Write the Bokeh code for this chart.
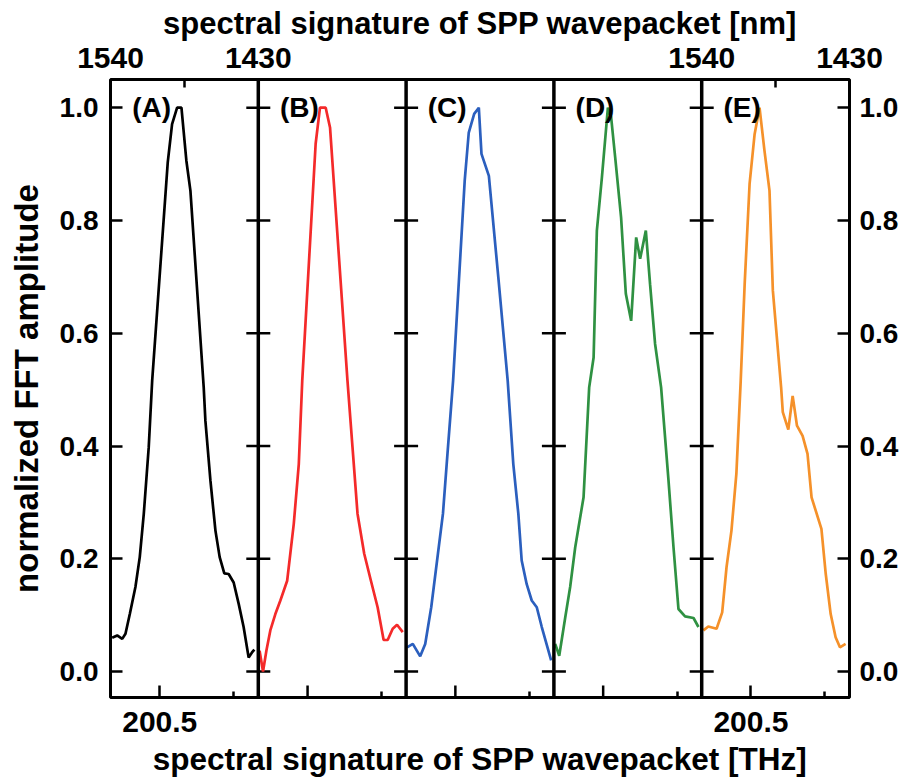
import math
from bokeh.plotting import figure
from bokeh.models import LinearAxis, FixedTicker, Range1d, Label, Span, PrintfTickFormatter
from bokeh.embed import file_html
from bokeh.resources import INLINE

# ---------------- data ----------------
panel_names = ["(A)", "(B)", "(C)", "(D)", "(E)"]
colors = ["#000000", "#f42a2a", "#2b5fbe", "#2f9142", "#f5912a"]

freq_a = [195.67, 196.18, 196.69, 197.02, 197.46, 198.03, 198.47, 198.88, 199.38, 199.73,
          201.31, 201.75, 202.26, 202.70, 203.20, 203.61, 204.96, 205.13, 205.64, 206.15,
          206.58, 207.05, 207.49, 208.00, 208.51, 209.01, 209.52, 209.86, 210.10]
amp_a = [0.060, 0.064, 0.058, 0.067, 0.102, 0.150, 0.203, 0.280, 0.398, 0.516,
         0.903, 0.971, 1.000, 1.000, 0.906, 0.853, 0.504, 0.445, 0.339, 0.250,
         0.203, 0.174, 0.173, 0.158, 0.120, 0.079, 0.025, 0.034, 0.039]

freq_b = [195.63, 195.98, 196.32, 196.72, 197.23, 197.74, 198.43, 199.10, 199.61, 199.96,
          201.32, 201.76, 202.34, 202.78, 204.55, 205.06, 205.57, 206.25, 206.93, 207.61,
          208.22, 208.63, 209.14, 209.58, 210.16]
amp_b = [0.037, 0.000, 0.037, 0.073, 0.102, 0.126, 0.161, 0.262, 0.368, 0.516,
         0.936, 1.000, 1.000, 0.965, 0.516, 0.398, 0.280, 0.209, 0.161, 0.114,
         0.056, 0.056, 0.076, 0.083, 0.070]

freq_c = [195.60, 196.18, 196.93, 197.44, 198.05, 198.73, 199.24, 199.75, 200.27, 201.45,
          201.86, 202.41, 202.88, 203.15, 203.90, 204.86, 205.81, 206.38, 206.89, 207.23,
          207.74, 208.25, 208.76, 209.27, 210.22]
amp_c = [0.043, 0.049, 0.027, 0.049, 0.114, 0.209, 0.280, 0.398, 0.516, 0.871,
         0.956, 0.989, 1.000, 0.918, 0.879, 0.699, 0.516, 0.368, 0.280, 0.197,
         0.155, 0.126, 0.114, 0.079, 0.020]

freq_d = [195.63, 196.04, 196.65, 197.15, 197.66, 198.00, 198.51, 199.08, 199.53, 199.86,
          200.37, 200.98, 201.31, 201.72, 202.32, 202.80, 203.34, 203.85, 204.25, 204.83,
          205.26, 205.77, 206.38, 207.13, 207.64, 208.14, 208.81, 209.67, 210.17]
amp_d = [0.049, 0.028, 0.096, 0.150, 0.220, 0.256, 0.309, 0.504, 0.557, 0.782,
         0.876, 1.000, 0.983, 0.912, 0.805, 0.670, 0.622, 0.770, 0.732, 0.782,
         0.687, 0.581, 0.504, 0.339, 0.220, 0.111, 0.098, 0.095, 0.079]

freq_e = [195.67, 196.17, 197.01, 197.58, 198.02, 198.52, 199.02, 199.46, 199.86, 200.36,
          200.87, 201.37, 201.87, 202.38, 202.72, 203.56, 203.73, 204.29, 204.73, 205.17,
          205.74, 206.24, 206.65, 207.65, 208.09, 208.59, 209.09, 209.53, 210.10]
amp_e = [0.073, 0.080, 0.076, 0.105, 0.185, 0.250, 0.351, 0.516, 0.687, 0.865,
         0.953, 1.000, 0.924, 0.853, 0.676, 0.504, 0.460, 0.429, 0.489, 0.436,
         0.418, 0.386, 0.309, 0.253, 0.173, 0.102, 0.061, 0.043, 0.049]

freqs = [freq_a, freq_b, freq_c, freq_d, freq_e]
amps = [amp_a, amp_b, amp_c, amp_d, amp_e]

freq_range = (195.5, 210.5)          # THz span of one panel
wl_edge_labels = ["1540", "1430"]    # nm at the panel edges (top axis)
freq_major = 200.5                   # labelled THz tick
freq_minor = 208.0
wl_mid = 203.0                       # middle (minor) tick of the nm axis
labelled_panels = [0, 4]
y_ticks = [0.0, 0.2, 0.4, 0.6, 0.8, 1.0]
y_range = (-0.046, 1.05)

# ---------------- figure ----------------
FONT = "Liberation Sans"
n = len(freqs)
span = freq_range[1] - freq_range[0]
x_start, x_end = freq_range[0], freq_range[0] + n * span

p = figure(width=904, height=779, frame_width=739, frame_height=618,
           min_border_left=110, min_border_right=55,
           min_border_top=79, min_border_bottom=82,
           x_range=Range1d(x_start, x_end), y_range=Range1d(*y_range),
           x_axis_location=None, y_axis_location=None,
           output_backend="svg", toolbar_location=None, tools="")
p.grid.visible = False
p.outline_line_color = "black"
p.outline_line_width = 3
p.background_fill_color = "white"
p.border_fill_color = "white"


def y_axis(side):
    ax = LinearAxis()
    ax.ticker = FixedTicker(ticks=y_ticks, minor_ticks=[])
    ax.formatter = PrintfTickFormatter(format="%.1f")
    ax.major_tick_in = 12
    ax.major_tick_out = 0
    ax.major_tick_line_width = 2.5
    ax.axis_line_color = None
    ax.major_label_text_font = FONT
    ax.major_label_text_font_style = "bold"
    ax.major_label_text_font_size = "28px"
    ax.major_label_text_color = "black"
    ax.major_label_standoff = 12 if side == "left" else 10
    p.add_layout(ax, side)
    return ax


la = y_axis("left")
la.axis_label = "normalized FFT amplitude"
la.axis_label_text_font = FONT
la.axis_label_text_font_style = "bold"
la.axis_label_text_font_size = "33px"
la.axis_label_text_color = "black"
la.axis_label_standoff = 12
y_axis("right")

# bottom axis: THz
ba = LinearAxis()
ba.ticker = FixedTicker(ticks=[freq_major + k * span for k in labelled_panels],
                        minor_ticks=[freq_minor + k * span for k in range(n)])
ba.major_label_overrides = {freq_major + k * span: f"{freq_major}" for k in labelled_panels}
ba.major_tick_in = 12
ba.major_tick_out = 0
ba.minor_tick_in = 6
ba.minor_tick_out = 0
ba.major_tick_line_width = 2.5
ba.minor_tick_line_width = 2.5
ba.axis_line_color = None
ba.major_label_text_font = FONT
ba.major_label_text_font_style = "bold"
ba.major_label_text_font_size = "30px"
ba.major_label_text_color = "black"
ba.major_label_standoff = 14
ba.axis_label = "spectral signature of SPP wavepacket [THz]"
ba.axis_label_text_font = FONT
ba.axis_label_text_font_style = "bold"
ba.axis_label_text_font_size = "31.5px"
ba.axis_label_text_color = "black"
ba.axis_label_standoff = 6
p.add_layout(ba, "below")

# top axis: nm
ta = LinearAxis()
top_ticks, top_over = [], {}
for k in labelled_panels:
    for j, lab in enumerate(wl_edge_labels):
        pos = freq_range[j] + k * span
        top_ticks.append(pos)
        top_over[pos] = lab
ta.ticker = FixedTicker(ticks=top_ticks, minor_ticks=[wl_mid + k * span for k in labelled_panels])
ta.major_label_overrides = top_over
ta.major_tick_in = 0
ta.major_tick_out = 0
ta.minor_tick_in = 8
ta.minor_tick_out = 0
ta.minor_tick_line_width = 2.5
ta.axis_line_color = None
ta.major_label_text_font = FONT
ta.major_label_text_font_style = "bold"
ta.major_label_text_font_size = "30px"
ta.major_label_text_color = "black"
ta.major_label_standoff = 12
ta.axis_label = "spectral signature of SPP wavepacket [nm]"
ta.axis_label_text_font = FONT
ta.axis_label_text_font_style = "bold"
ta.axis_label_text_font_size = "31px"
ta.axis_label_text_color = "black"
ta.axis_label_standoff = 4
p.add_layout(ta, "above")

# panel separators with their inward tick marks
bounds = [freq_range[0] + k * span for k in range(1, n)]
for b in bounds:
    p.add_layout(Span(location=b, dimension="height", line_color="black", line_width=3.5))
p.scatter(x=[b for b in bounds for _ in y_ticks], y=[t for _ in bounds for t in y_ticks],
          marker="dash", size=24, line_color="black", line_width=2.5)
# long THz ticks of the unlabelled panels
inner = [k for k in range(n) if k not in labelled_panels]
p.scatter(x=[freq_major + k * span for k in inner], y=[y_range[0]] * len(inner),
          marker="dash", angle=math.pi / 2, size=24, line_color="black", line_width=2.5)

for k in range(n):
    p.line([f + k * span for f in freqs[k]], amps[k], line_color=colors[k], line_width=2.7)
    p.add_layout(Label(x=freq_range[0] + k * span + 2.2, y=1.0, text=panel_names[k],
                       text_font=FONT, text_font_style="bold",
                       text_font_size="28px", text_baseline="middle",
                       text_color="black"))

open("out.html", "w").write(file_html(p, INLINE))
